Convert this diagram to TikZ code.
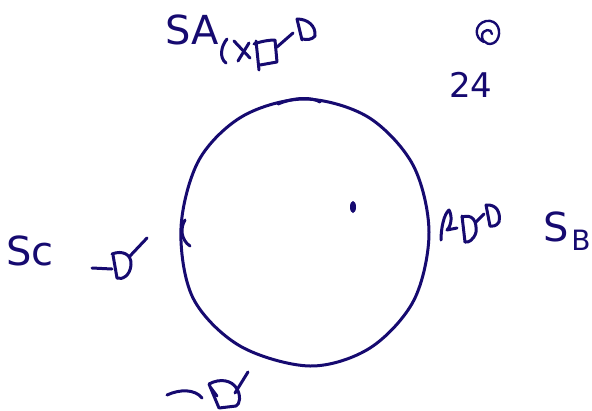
\documentclass[tikz,border=0pt]{standalone}
\usepackage{fontspec}
\setmainfont{DejaVu Sans}
\definecolor{ink}{RGB}{22,10,112}
\begin{document}
\begin{tikzpicture}[x=1pt,y=-1pt,
  pen/.style={draw=ink,line width=3pt,line cap=round,line join=round},
  label/.style={text=ink,inner sep=0pt,anchor=center}]
\useasboundingbox (0,0) rectangle (592,410);
% main circle
\draw[pen] plot[smooth cycle,tension=0.55] coordinates {
 (429,232) (413,165) (368,117) (305,99) (243,116) (199,160) (181,228)
 (193,298) (240,346) (310,366) (370,348) (414,300)};
\draw[pen] (278,104) .. controls (295,97) and (312,97) .. (320,102);
\draw[pen] (190,246) .. controls (181,240) and (180,228) .. (185,220);
% dot
\fill[ink] (353,207) ellipse (3pt and 6pt);
% texts
\node[label,font=\fontsize{40}{40}\selectfont] (sa) at (192,30) {SA};
\node[label,font=\fontsize{34}{34}\selectfont] (n24) at (471,85) {24};
\node[label,font=\fontsize{40}{40}\selectfont] (sc) at (30,251) {Sc};
\node[label,font=\fontsize{40}{40}\selectfont] (s) at (556,227) {S};
\node[label,font=\fontsize{28}{28}\selectfont] (b) at (581,240) {B};
% spiral
\draw[pen,line width=2.4pt] (484,42) .. controls (474,38) and (474,24) .. (486,21)
  .. controls (498,19) and (502,32) .. (497,40) .. controls (492,47) and (482,44) .. (482,36)
  .. controls (482,29) and (492,28) .. (492,34);
% (XD-D near SA
\draw[pen] (227,39) .. controls (221,46) and (219,58) .. (226,63);
\draw[pen] (234,41) -- (250,58);
\draw[pen] (249,43) -- (238,61);
\draw[pen] (256,41) -- (259,70);
\draw[pen] (254,44) .. controls (262,41) and (270,40) .. (275,40) -- (277,62) -- (260,65);
\draw[pen] (277,47) -- (293,33);
\draw[pen] (297,19) -- (302,40);
\draw[pen] (297,19) .. controls (308,19) and (316,26) .. (315,36) .. controls (312,40) and (306,40) .. (303,39);
% -D left
\draw[pen] (92,268) -- (112,269);
\draw[pen] (113,255) -- (117,278);
\draw[pen] (112,254) .. controls (122,250) and (132,254) .. (131,265)
  .. controls (130,276) and (122,280) .. (117,278);
\draw[pen] (130,256) -- (147,238);
% XDD right
\draw[pen] (441,240) .. controls (441,228) and (444,214) .. (449,210)
  .. controls (452,215) and (452,225) .. (447,230) -- (457,228);
\draw[pen] (462,216) -- (465,242);
\draw[pen] (462,217) .. controls (472,214) and (477,220) .. (476,232)
  .. controls (474,240) and (468,243) .. (465,242);
\draw[pen] (476,222) -- (484,214);
\draw[pen] (486,205) -- (490,226);
\draw[pen] (486,205) .. controls (496,204) and (501,212) .. (499,222) .. controls (496,227) and (492,226) .. (490,226);
% -D bottom
\draw[pen] (167,395) .. controls (180,389) and (195,389) .. (202,398);
\draw[pen] (209,384) .. controls (220,378) and (232,380) .. (237,389)
  .. controls (241,396) and (240,404) .. (236,406) -- (219,408) -- (209,384);
\draw[pen] (211,388) -- (217,396);
\draw[pen] (235,393) -- (248,372);
\end{tikzpicture}
\end{document}
